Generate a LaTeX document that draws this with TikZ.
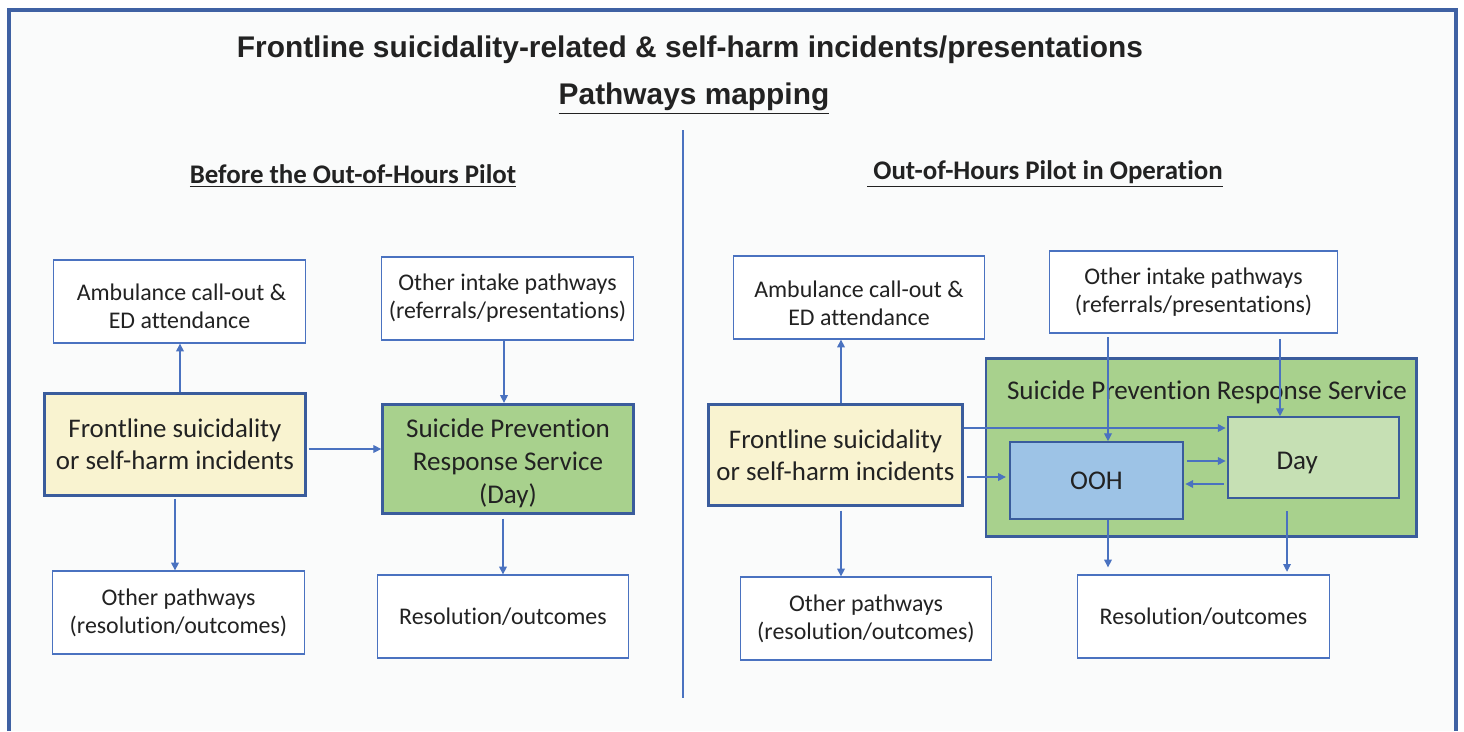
\documentclass[tikz,border=0pt]{standalone}
\usepackage{fontspec}
\setmainfont{Carlito}[Ligatures={NoCommon}]
\newfontfamily\headfont{Liberation Sans}
\usepackage{tikz}
\usetikzlibrary{arrows.meta}

\definecolor{frameblue}{HTML}{3F61A3}
\definecolor{boxblue}{HTML}{4A72C0}
\definecolor{darkblue}{HTML}{3A5C9C}
\definecolor{paleyellow}{HTML}{F9F3D0}
\definecolor{midgreen}{HTML}{A8D18D}
\definecolor{lightgreen}{HTML}{C6E0B4}
\definecolor{oohblue}{HTML}{9DC3E6}
\definecolor{inktext}{HTML}{222222}
\definecolor{paper}{HTML}{FAFBFB}

\newcommand{\toppad}[1]{\rule{0pt}{#1}}

\tikzset{
    box/.style={draw=boxblue, line width=0.9pt, fill=white, inner sep=0pt,
        align=center, text=inktext, font=\fontsize{13.6}{16}\selectfont},
    frontbox/.style={box, draw=darkblue, line width=1.5pt, fill=paleyellow,
        font=\fontsize{15.3}{18.2}\selectfont},
    greenbox/.style={box, draw=darkblue, line width=1.5pt, fill=midgreen,
        font=\fontsize{15.4}{18.7}\selectfont},
    arr/.style={draw=boxblue, line width=0.6pt, -{Triangle[length=4.4pt,width=4.4pt]}},
    heading/.style={text=inktext, inner sep=0pt, font=\fontsize{15.3}{18}\selectfont\bfseries}
}

\begin{document}
\begin{tikzpicture}[x=0.02cm, y=-0.02cm]
        \useasboundingbox (0,0) rectangle (1464,731);
        \fill[paper] (9,10) rectangle (1456,731);
        \draw[frameblue, line width=2.2pt] (9,731) -- (9,10) -- (1456,10) -- (1456,731);

        % Titles
        \node[text=inktext, inner sep=0pt, font=\headfont\fontsize{17}{20}\selectfont\bfseries] (t1) at (690,50)
            {Frontline suicidality-related \& self-harm incidents/presentations};
        \node[text=inktext, inner sep=0pt, font=\headfont\fontsize{17}{20}\selectfont\bfseries] (t2) at (694,99)
            {\underline{Pathways mapping}};
        \node[heading] (h1) at (353,176) {\underline{Before the Out-of-Hours Pilot}};
        \node[heading] (h2) at (1045,174) {\underline{\ Out-of-Hours Pilot in Operation}};
        \draw[boxblue, line width=1.1pt] (683,130) -- (683,698);

        % Nodes (before)
        \node[box, minimum width=253*0.567pt, minimum height=83*0.567pt] (a1) at (179.5,301.5)
            {\toppad{15pt}\,Ambulance call-out \&\\ED attendance};
        \node[frontbox, minimum width=262*0.567pt, minimum height=103*0.567pt] (f1) at (175,444.5)
            {Frontline suicidality\\or self-harm incidents};
        \node[box, minimum width=253*0.567pt, minimum height=83*0.567pt] (o1) at (178.5,612.5)
            {Other pathways\\(resolution/outcomes)};
        \node[box, minimum width=253*0.567pt, minimum height=83*0.567pt] (i1) at (507.5,298.5)
            {Other intake pathways\\(referrals/presentations)};
        \node[greenbox, minimum width=252*0.567pt, minimum height=110*0.567pt] (s1) at (508,459)
            {\toppad{15.5pt}Suicide Prevention\\Response Service\\(Day)};
        \node[box, minimum width=252*0.567pt, minimum height=83*0.567pt] (r1) at (503,616.5)
            {Resolution/outcomes};

        % Nodes (pilot)
        \node[box, minimum width=252*0.567pt, minimum height=83*0.567pt] (a2) at (859,297.5)
            {\toppad{16pt}Ambulance call-out \&\\ED attendance};
        \node[frontbox, minimum width=255*0.567pt, minimum height=102*0.567pt] (f2) at (835.5,455)
            {Frontline suicidality\\or self-harm incidents};
        \node[box, minimum width=252*0.567pt, minimum height=83*0.567pt] (o2) at (866,618.5)
            {Other pathways\\(resolution/outcomes)};
        \node[box, minimum width=289*0.567pt, minimum height=82*0.567pt] (i2) at (1193.5,292)
            {Other intake pathways\\(referrals/presentations)};
        \node[greenbox, minimum width=432*0.567pt, minimum height=179*0.567pt] (s2) at (1201,447.5) {};
        \node[text=inktext, inner sep=0pt, font=\fontsize{15.4}{18}\selectfont] (s2lbl) at (1207,392)
            {Suicide Prevention Response Service};
        \node[greenbox, line width=1.1pt, fill=oohblue, minimum width=173*0.567pt, minimum height=77*0.567pt] (ooh) at (1096.5,480.5)
            {OOH};
        \node[greenbox, line width=1.1pt, fill=lightgreen, minimum width=171*0.567pt, minimum height=81*0.567pt] (day) at (1313.5,457.5)
            {\toppad{16pt}\hspace{-1.2em}Day};
        \node[box, minimum width=253*0.567pt, minimum height=83*0.567pt] (r2) at (1203.5,616.5)
            {Resolution/outcomes};

        % Edges (before)
        \draw[arr] (f1.north -| 180,0) -- (a1.south -| 180,0);
        \draw[arr, shorten <=1pt] (f1.south) -- (o1.north -| f1.south);
        \draw[arr, shorten <=1pt] (f1.east |- 0,449) -- (s1.west |- 0,449);
        \draw[arr] (i1.south -| 504,0) -- (s1.north -| 504,0);
        \draw[arr, shorten <=2pt] (s1.south -| 503,0) -- (r1.north -| 503,0);

        % Edges (pilot)
        \draw[arr] (f2.north -| 841,0) -- (a2.south -| 841,0);
        \draw[arr, shorten <=2pt] (f2.south -| 841,0) -- (o2.north -| 841,0);
        \draw[arr] (f2.east |- 0,428) -- ([xshift=-1pt]day.west |- 0,428);
        \draw[arr, shorten <=2pt] (f2.east |- 0,477) -- ([xshift=-2pt]ooh.west |- 0,477);
        \draw[arr, shorten <=2pt] (i2.south -| 1108,0) -- (ooh.north -| 1108,0);
        \draw[arr, shorten <=3pt] (i2.south -| 1280,0) -- (day.north -| 1280,0);
        \draw[arr, shorten <=2pt] (ooh.east |- 0,461) -- ([xshift=-1pt]day.west |- 0,461);
        \draw[arr, shorten <=2pt] (day.west |- 0,484) -- ([xshift=1pt]ooh.east |- 0,484);
        \draw[arr] (ooh.south -| 1108,0) -- ([yshift=4pt]r2.north -| 1108,0);
        \draw[arr, shorten <=7pt] (day.south -| 1287,0) -- ([yshift=1.5pt]r2.north -| 1287,0);
    \end{tikzpicture}
\end{document}
